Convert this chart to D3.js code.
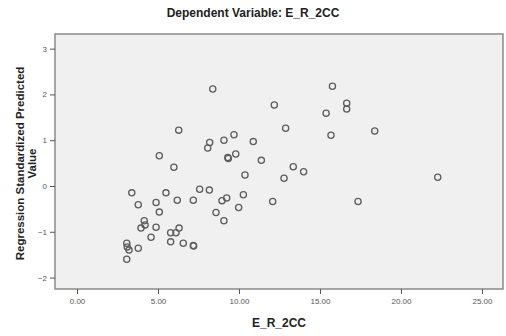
<!DOCTYPE html>
<html><head><meta charset="utf-8">
<script src="https://cdn.jsdelivr.net/npm/d3@7"></script>
<style>body{margin:0;background:#fff;}svg{display:block;font-family:"Liberation Sans",Arial,sans-serif;}</style>
</head><body><svg id="c" width="506" height="336"></svg>
<script>
const title = "Dependent Variable: E_R_2CC";
const xTitle = "E_R_2CC";
const yTitleLines = ["Regression Standardized Predicted", "Value"];
const xTicks = [0, 5, 10, 15, 20, 25];
const yTicks = [-2, -1, 0, 1, 2, 3];
const xValues = [8.38,15.77,12.18,15.38,16.65,16.65,12.88,15.68,18.38,22.27,17.35,12.08,12.78,13.35,13.99,11.38,10.37,10.27,9.98,9.80,9.34,9.31,9.69,10.88,9.07,8.19,8.07,6.28,5.08,5.98,3.38,3.78,5.49,4.88,6.19,5.08,7.57,8.17,7.18,8.95,9.24,8.58,9.07,4.15,4.20,3.95,4.88,4.57,6.30,6.11,5.78,5.78,6.56,7.18,7.20,3.07,3.10,3.21,3.78,3.07];
const yValues = [2.12,2.18,1.77,1.59,1.81,1.68,1.26,1.11,1.20,0.19,-0.34,-0.34,0.17,0.42,0.31,0.56,0.24,-0.19,-0.47,0.70,0.60,0.62,1.12,0.97,1.00,0.95,0.83,1.22,0.66,0.41,-0.15,-0.41,-0.15,-0.36,-0.31,-0.57,-0.07,-0.09,-0.31,-0.32,-0.26,-0.58,-0.76,-0.76,-0.85,-0.92,-0.90,-1.12,-0.92,-1.02,-1.02,-1.22,-1.25,-1.30,-1.31,-1.25,-1.33,-1.40,-1.36,-1.60];

const svg = d3.select("#c");
const L = 55, R = 503, T = 34, B = 289;
const x = d3.scaleLinear().domain([-1.36, 26.3]).range([L, R]);
const y = d3.scaleLinear().domain([-2.25, 3.32]).range([B, T]);

svg.append("rect").attr("x", L).attr("y", T).attr("width", R - L).attr("height", B - T)
  .attr("fill", "#f0f0f0").attr("stroke", "#8a8a8a").attr("stroke-width", 1.5);

const fmt = d => d.toFixed(2);
const xa = svg.append("g").attr("transform", `translate(0,${B})`)
  .call(d3.axisBottom(x).tickValues(xTicks).tickFormat(fmt).tickSize(5).tickSizeOuter(0));
xa.select(".domain").remove();
xa.selectAll("line").attr("stroke", "#555");
xa.selectAll("text").attr("font-size", 8).attr("fill", "#555").attr("dy", "0.9em").attr("font-family", "Liberation Sans, Arial, sans-serif");

const ya = svg.append("g").attr("transform", `translate(${L},0)`)
  .call(d3.axisLeft(y).tickValues(yTicks).tickFormat(d3.format("d")).tickSize(5).tickSizeOuter(0));
ya.select(".domain").remove();
ya.selectAll("line").attr("stroke", "#555");
ya.selectAll("text").attr("font-size", 8).attr("fill", "#555").attr("font-family", "Liberation Sans, Arial, sans-serif");

svg.append("g").selectAll("circle").data(xValues.map((v, i) => [v, yValues[i]])).join("circle")
  .attr("cx", d => x(d[0])).attr("cy", d => y(d[1])).attr("r", 3.1)
  .attr("fill", "none").attr("stroke", "#5e5e5e").attr("stroke-width", 1.3);

svg.append("text").attr("x", 253).attr("y", 17).attr("text-anchor", "middle")
  .attr("font-size", 12).attr("font-weight", "bold").attr("fill", "#222").text(title);

svg.append("text").attr("x", (L + R) / 2).attr("y", 327).attr("text-anchor", "middle")
  .attr("font-size", 12).attr("font-weight", "bold").attr("fill", "#222").text(xTitle);

const yt = svg.append("text").attr("transform", `translate(24,${(T + B) / 2 + 2}) rotate(-90)`)
  .attr("text-anchor", "middle").attr("font-size", 11.5).attr("font-weight", "bold").attr("fill", "#222");
yTitleLines.forEach((t, i) => yt.append("tspan").attr("x", 0).attr("dy", i === 0 ? 0 : 12).text(t));
</script>
</body></html>
